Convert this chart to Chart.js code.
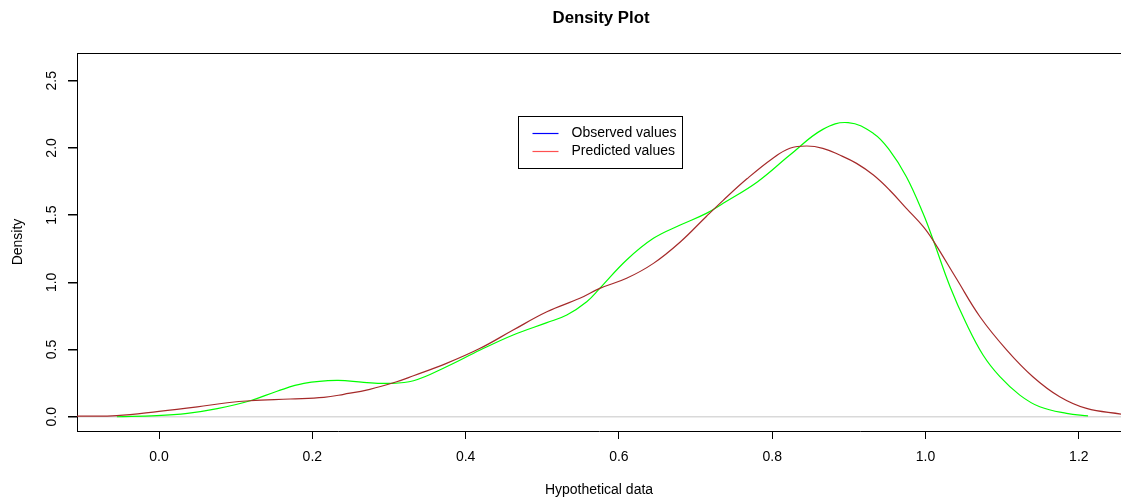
<!DOCTYPE html>
<html>
<head>
<meta charset="utf-8">
<title>Density Plot</title>
<script src="https://cdn.jsdelivr.net/npm/chart.js@4.4.1/dist/chart.umd.min.js"></script>
<style>
  html, body { margin: 0; padding: 0; background: #fff; overflow: hidden; }
  #wrap { width: 1121px; height: 503px; }
</style>
</head>
<body>
<div id="wrap"><canvas id="densityChart" width="1121" height="503"></canvas></div>
<script>
// Density curves (x = value, y = density)
const observedX = [-0.107, -0.055, 0.0, 0.05, 0.089, 0.119, 0.171, 0.215, 0.241, 0.275, 0.31, 0.332,
  0.375, 0.419, 0.462, 0.506, 0.549, 0.575, 0.61, 0.645, 0.68, 0.714, 0.736, 0.767, 0.80, 0.823,
  0.845, 0.866, 0.888, 0.910, 0.932, 0.953, 0.975, 0.997, 1.010, 1.040, 1.071, 1.106, 1.140,
  1.175, 1.210, 1.255];
const observedY = [0.004, 0.008, 0.04, 0.074, 0.104, 0.119, 0.132, 0.144, 0.167, 0.204, 0.26, 0.305,
  0.397, 0.509, 0.645, 0.781, 0.881, 0.955, 1.03, 1.141, 1.30, 1.49, 1.61, 1.77, 1.92, 1.997,
  2.014, 1.997, 1.947, 1.885, 1.798, 1.687, 1.55, 1.414, 1.31, 1.03, 0.744, 0.496, 0.298,
  0.149, 0.062, 0.02];

const predictedX = [-0.055, -0.003, 0.037, 0.076, 0.119, 0.154, 0.189, 0.232, 0.267, 0.297, 0.332,
  0.375, 0.419, 0.462, 0.506, 0.532, 0.558, 0.575, 0.61, 0.645, 0.68, 0.714, 0.736, 0.781, 0.823,
  0.866, 0.899, 0.932, 0.953, 0.975, 0.997, 1.010, 1.032, 1.053, 1.075, 1.097, 1.123, 1.149,
  1.184, 1.212];
const predictedY = [0.0, 0.008, 0.025, 0.06, 0.119, 0.19, 0.248, 0.27, 0.256, 0.248, 0.268,
  0.372, 0.496, 0.608, 0.70, 0.757, 0.856, 0.955, 1.166, 1.327, 1.426, 1.513, 1.588, 1.749, 1.947,
  2.138, 2.188, 2.108, 1.984, 1.786, 1.51, 1.315, 0.967, 0.695, 0.459, 0.298, 0.161, 0.074,
  0.025, 0.007];

const xTicks = [0.0, 0.2, 0.4, 0.6, 0.8, 1.0, 1.2];
const yTicks = [0.0, 0.5, 1.0, 1.5, 2.0, 2.5];
const legendLabels = ['Observed values', 'Predicted values'];
const legendColors = ['#0000ff', '#ff5050'];

const FONT = "'Liberation Sans', Arial, Helvetica, sans-serif";
Chart.defaults.font.family = FONT;
Chart.defaults.font.size = 14;
Chart.defaults.color = '#000';

function toPoints(xs, ys) {
    return xs.map((x, i) => ({ x: x, y: ys[i] }));
}

// Extra drawing: title, top border, rotated y labels, legend box
const extras = {
    id: 'extras',
    afterDraw(chart) {
        const ctx = chart.ctx;
        const area = chart.chartArea;
        const xs = chart.scales.x;
        const ys = chart.scales.y;
        ctx.save();

        // top border
        ctx.strokeStyle = '#000';
        ctx.lineWidth = 1;
        ctx.beginPath();
        ctx.moveTo(area.left, area.top + 0.5);
        ctx.lineTo(area.right, area.top + 0.5);
        ctx.stroke();

        // title
        ctx.fillStyle = '#000';
        ctx.font = 'bold 16.8px ' + FONT;
        ctx.textAlign = 'center';
        ctx.textBaseline = 'middle';
        ctx.fillText('Density Plot', (area.left + area.right) / 2 + 2, 18);

        // y tick labels, rotated like R
        ctx.font = '14px ' + FONT;
        yTicks.forEach(v => {
            const py = ys.getPixelForValue(v);
            ctx.save();
            ctx.translate(52, py);
            ctx.rotate(-Math.PI / 2);
            ctx.fillText(v.toFixed(1), 0, 0);
            ctx.restore();
        });

        // legend
        const lx = Math.round(xs.getPixelForValue(0.468)) + 0.5;
        const ly = Math.round(ys.getPixelForValue(2.237)) + 0.5;
        const lw = 164, lh = 52;
        ctx.fillStyle = '#fff';
        ctx.fillRect(lx, ly, lw, lh);
        ctx.strokeStyle = '#000';
        ctx.strokeRect(lx, ly, lw, lh);
        ctx.textAlign = 'left';
        legendLabels.forEach((label, i) => {
            const rowY = ly + 17 + i * 18;
            ctx.strokeStyle = legendColors[i];
            ctx.lineWidth = 1.2;
            ctx.beginPath();
            ctx.moveTo(lx + 14, rowY);
            ctx.lineTo(lx + 40, rowY);
            ctx.stroke();
            ctx.fillStyle = '#000';
            ctx.fillText(label, lx + 53, rowY);
        });

        ctx.restore();
    }
};

const chart = new Chart(document.getElementById('densityChart'), {
    type: 'line',
    data: {
        datasets: [
            {
                label: 'Observed values',
                data: toPoints(observedX, observedY),
                borderColor: '#a52a2a',
                borderWidth: 1.2,
                pointRadius: 0,
                tension: 0.4,
                fill: false
            },
            {
                label: 'Predicted values',
                data: toPoints(predictedX, predictedY),
                borderColor: '#00ff00',
                borderWidth: 1.2,
                pointRadius: 0,
                tension: 0.4,
                fill: false
            }
        ]
    },
    options: {
        responsive: false,
        animation: false,
        events: [],
        layout: { padding: { top: 53, left: 0, right: 0, bottom: 0 } },
        plugins: {
            legend: { display: false },
            title: { display: false },
            tooltip: { enabled: false }
        },
        scales: {
            x: {
                type: 'linear',
                min: -0.107,
                max: 1.255,
                afterBuildTicks: scale => { scale.ticks = xTicks.map(v => ({ value: v })); },
                afterFit: scale => { scale.height = 72; },
                grid: { drawOnChartArea: false, drawTicks: true, tickLength: 8, color: '#000' },
                border: { display: true, color: '#000', width: 1 },
                ticks: {
                    padding: 10,
                    maxRotation: 0,
                    callback: v => Number(v).toFixed(1)
                },
                title: { display: true, text: 'Hypothetical data', padding: { top: 0, bottom: 4 } }
            },
            y: {
                type: 'linear',
                min: -0.106,
                max: 2.706,
                afterBuildTicks: scale => { scale.ticks = yTicks.map(v => ({ value: v })); },
                afterFit: scale => { scale.width = 77; },
                grid: {
                    drawOnChartArea: true,
                    drawTicks: true,
                    tickLength: 9,
                    lineWidth: 1.5,
                    color: c => (c.tick && c.tick.value === 0 ? '#d9d9d9' : 'rgba(0,0,0,0)'),
                    tickColor: '#000'
                },
                border: { display: true, color: '#000', width: 1 },
                ticks: { display: false },
                title: { display: true, text: 'Density', padding: { top: 10, bottom: 0 } }
            }
        }
    },
    plugins: [extras]
});
</script>
</body>
</html>
